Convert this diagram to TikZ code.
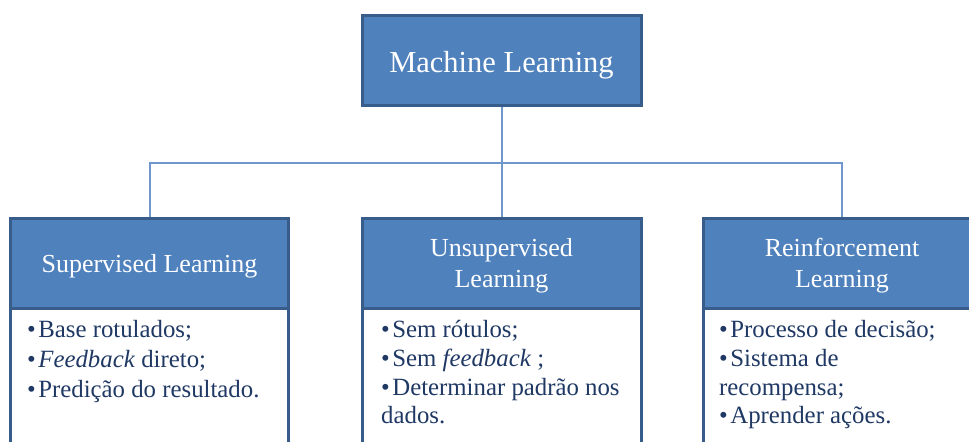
\documentclass[tikz,border=0pt]{standalone}
\usepackage{fontspec}
\setmainfont{Liberation Serif}
\definecolor{boxfill}{RGB}{79,129,189}
\definecolor{boxline}{RGB}{56,93,138}
\definecolor{conn}{RGB}{112,151,204}
\definecolor{bodytext}{RGB}{31,56,100}
\tikzset{
  hdrbox/.style={draw=boxline, line width=3bp, fill=boxfill, rectangle, inner sep=0pt},
  bodybox/.style={draw=boxline, line width=3bp, fill=white, rectangle, inner sep=0pt},
  hdrtext/.style={text=white, font=\fontsize{26bp}{31bp}\selectfont, inner sep=0pt, anchor=base},
  titletext/.style={text=white, font=\fontsize{30.5bp}{36bp}\selectfont, inner sep=0pt, anchor=base},
  itemtext/.style={text=bodytext, font=\fontsize{24.8bp}{29.5bp}\selectfont, inner sep=0pt, anchor=base west},
  connector/.style={draw=conn, line width=2bp}
}
\newcommand{\bul}{\textbullet\hspace{2.5bp}}
\begin{document}
\begin{tikzpicture}[x=1bp,y=-1bp]
\useasboundingbox (0,0) rectangle (969,442);
\clip (0,0) rectangle (969,442);
% boxes
\node[hdrbox, minimum width=279bp, minimum height=90bp] (top) at (501.5,61) {};
\node[bodybox, minimum width=277bp, minimum height=170bp] (b1) at (149.5,394) {};
\node[bodybox, minimum width=279bp, minimum height=170bp] (b2) at (501.5,394) {};
\node[bodybox, minimum width=278bp, minimum height=170bp] (b3) at (842,394) {};
\node[hdrbox, minimum width=277bp, minimum height=90bp] (h1) at (149.5,264) {};
\node[hdrbox, minimum width=279bp, minimum height=90bp] (h2) at (501.5,264) {};
\node[hdrbox, minimum width=278bp, minimum height=90bp] (h3) at (842,264) {};
% connectors
\coordinate (j) at (501.5,163);
\draw[connector] (top.south) -- (j);
\draw[connector] (h1.north) |- (j) -| (h3.north);
\draw[connector] (j) -- (h2.north);
% titles
\node[titletext] (tt) at (501.5,73) {Machine Learning};
\node[hdrtext] (t1) at (149.5,273) {Supervised Learning};
\node[hdrtext] (t2a) at (501.5,257) {Unsupervised};
\node[hdrtext] (t2b) at (501.5,288) {Learning};
\node[hdrtext] (t3a) at (842,257) {Reinforcement};
\node[hdrtext] (t3b) at (842,288) {Learning};
% body items
\node[itemtext] (l1) at (27,338) {\bul Base rotulados;};
\node[itemtext] (l2) at (27,368) {\bul \textit{Feedback} direto;};
\node[itemtext] (l3) at (27,397) {\bul Predição do resultado.};
\node[itemtext] (m1) at (381,338) {\bul Sem rótulos;};
\node[itemtext] (m2) at (381,367) {\bul Sem \textit{feedback} ;};
\node[itemtext] (m3) at (381,395) {\bul Determinar padrão nos};
\node[itemtext] (m4) at (381,423) {dados.};
\node[itemtext] (r1) at (719,338) {\bul Processo de decisão;};
\node[itemtext] (r2) at (719,367) {\bul Sistema de};
\node[itemtext] (r3) at (719,395) {recompensa;};
\node[itemtext] (r4) at (719,423) {\bul Aprender ações.};
\end{tikzpicture}
\end{document}
